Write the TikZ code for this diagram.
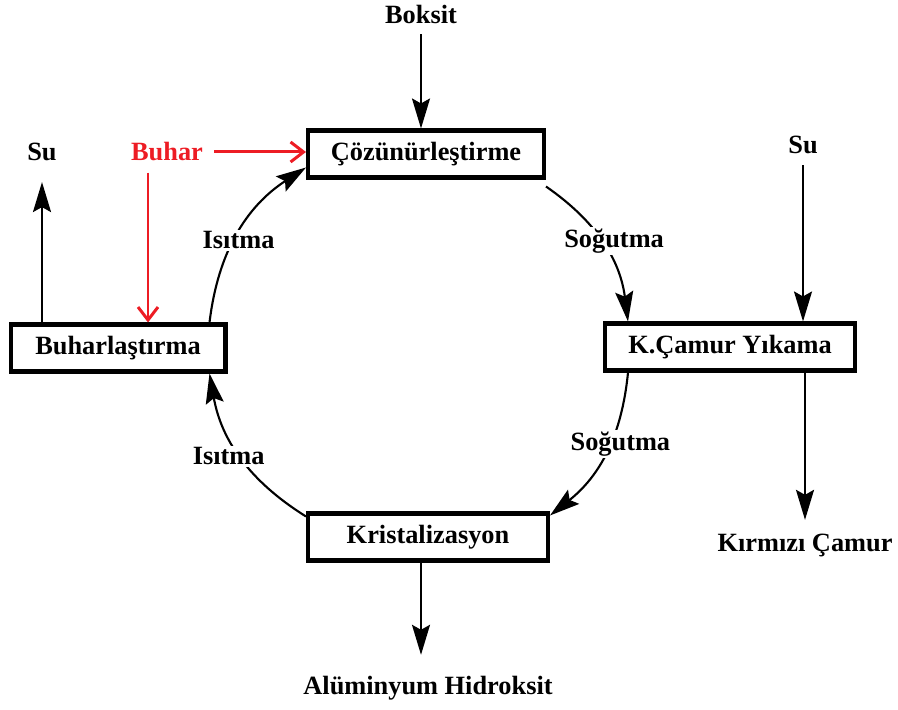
\documentclass[tikz,border=0pt]{standalone}
\usepackage{fontspec}
\setmainfont{Liberation Serif}
\usetikzlibrary{positioning,arrows.meta}
\definecolor{steamred}{RGB}{237,28,36}

\begin{document}
\begin{tikzpicture}[
    x=0.02cm, y=0.02cm,
    font=\fontsize{15}{18}\selectfont\bfseries,
    unit/.style={
        rectangle,
        draw=black,
        fill=white,
        line width=2.3pt,
        minimum height=0.94cm,
        align=center
    },
    lbl/.style={fill=white, inner sep=1pt},
    arrow/.style={-{Stealth[length=0.6cm, width=0.36cm, inset=0.1cm]}, very thick},
    steam/.style={-{Straight Barb[length=0.26cm, width=0.4cm]}, line width=1.7pt, draw=steamred}
]
\useasboundingbox (0,0) rectangle (898,709);

\node[unit, minimum width=4.72cm] (A) at (426,555) {Çözünürleştirme};
\node[unit, minimum width=5cm] (B) at (730,362) {K.Çamur Yıkama};
\node[unit, minimum width=4.8cm] (C) at (428,172) {Kristalizasyon};
\node[unit, minimum width=4.3cm] (D) at (118,361) {Buharlaştırma};

\node (bok) at (421,695) {Boksit};
\node (su1) at (42,557) {Su};
\node[text=steamred] (buh) at (167,557) {Buhar};
\node (su2) at (803,564) {Su};
\node (kc) at (805,164) {Kırmızı Çamur};
\node (ah) at (428,21) {Alüminyum Hidroksit};

% ring
\draw[arrow] ([yshift=-0.14cm]A.south east) to[bend left=24]
    node[lbl, xshift=0.22cm, yshift=0.06cm] {Soğutma} ([xshift=0.5cm]B.north west);
\draw[arrow] ([xshift=0.5cm]B.south west) to[bend left=23]
    node[lbl, xshift=0.3cm, yshift=0.18cm] {Soğutma} ([yshift=-0.08cm]C.north east);
\draw[arrow] ([yshift=-0.1cm]C.north west) to[bend left=24]
    node[lbl, xshift=-0.24cm] {Isıtma} ([xshift=-0.36cm]D.south east);
\draw[arrow] ([xshift=-0.36cm]D.north east) to[bend left=25]
    node[lbl, yshift=-0.14cm] {Isıtma} ([yshift=0.24cm]A.south west);

% feeds and products
\draw[arrow] ([yshift=-0.1cm]bok.south) -- (bok.south |- A.north);
\draw[arrow] (D.north -| su1) -- ([yshift=-0.3cm]su1.south);
\draw[steam] ([xshift=0.1cm]buh.east) -- (buh.east -| A.west);
\draw[steam] ([xshift=-0.38cm,yshift=-0.1cm]buh.south) -- ([xshift=-0.38cm]buh.south |- D.north);
\draw[arrow] ([yshift=-0.1cm]su2.south) -- (su2.south |- B.north);
\draw[arrow] (B.south -| kc) -- ([yshift=0.15cm]kc.north);
\draw[arrow] (C.south -| bok) -- ([yshift=0.3cm]ah.north -| bok);

\end{tikzpicture}
\end{document}
